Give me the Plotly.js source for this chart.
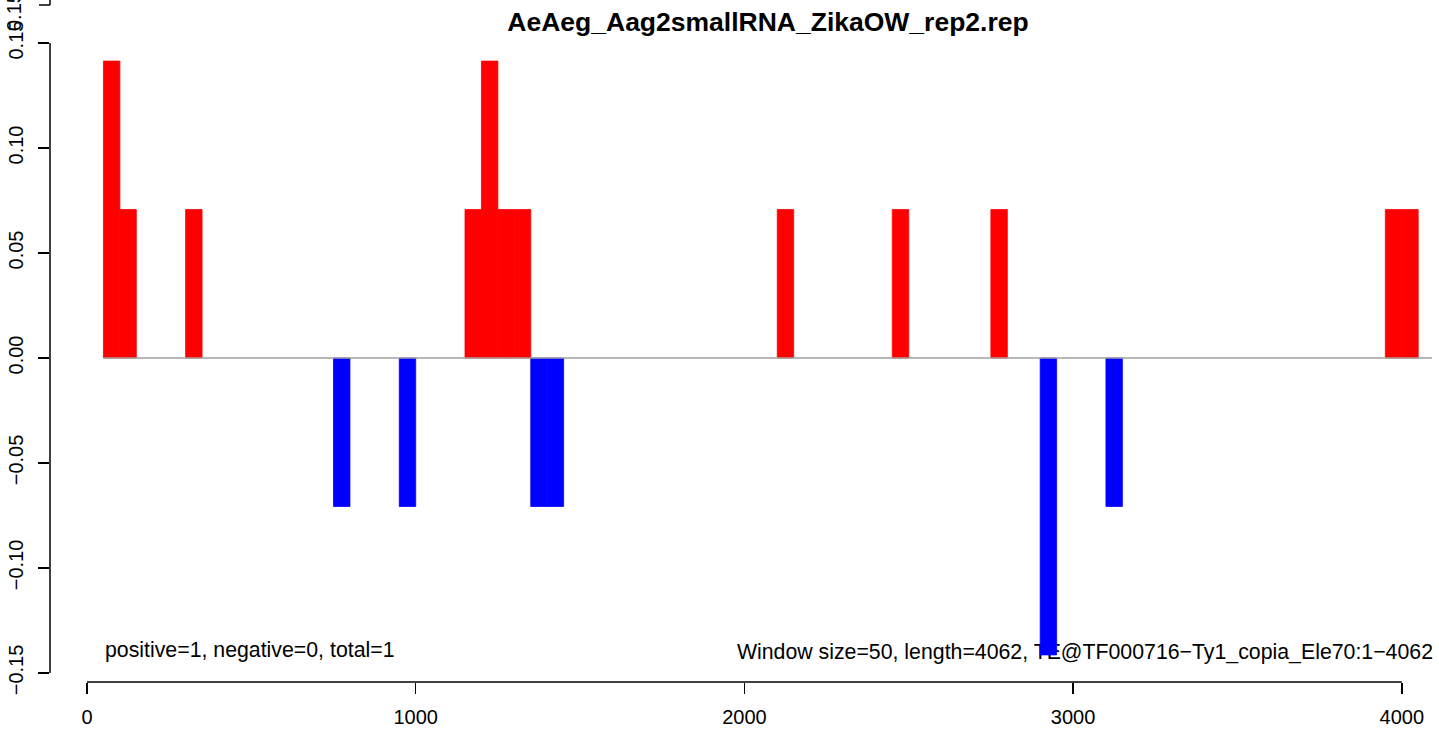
<!DOCTYPE html>
<html>
<head>
<meta charset="utf-8">
<script src="https://cdn.plot.ly/plotly-3.0.1.min.js"></script>
<style>html,body{margin:0;padding:0;background:#fff}#chart{width:1439px;height:729px}</style>
</head>
<body>
<div id="chart"></div>
<script>
// Window size 50: start positions of windows with reads
const windowSize = 50;
const posStart = [50, 100, 300, 1150, 1200, 1250, 1300, 2100, 2450, 2750, 3950, 4000];
const posValue = [0.1414, 0.0707, 0.0707, 0.0707, 0.1414, 0.0707, 0.0707, 0.0707, 0.0707, 0.0707, 0.0707, 0.0707];
const negStart = [750, 950, 1350, 1400, 2900, 3100];
const negValue = [-0.0707, -0.0707, -0.0707, -0.0707, -0.1414, -0.0707];
const baselineX = [50, 4100];
const xTicks = [0, 1000, 2000, 3000, 4000];
const yTicks = [-0.15, -0.10, -0.05, 0.00, 0.05, 0.10, 0.15];
const titleText = "AeAeg_Aag2smallRNA_ZikaOW_rep2.rep";
const leftNote = "positive=1, negative=0, total=1";
const rightNote = "Window size=50, length=4062, TE@TF000716\u2212Ty1_copia_Ele70:1\u22124062";

const FONT = "Liberation Sans, Arial, Helvetica, sans-serif";
const W = 1439, H = 729;
const M = {l: 50, r: 7, t: 34, b: 47};
const plotW = W - M.l - M.r, plotH = H - M.t - M.b;

const centers = a => a.map(s => s + windowSize / 2);

const traces = [
  {type: 'bar', x: centers(posStart), y: posValue, width: windowSize,
   marker: {color: '#ff0000', line: {width: 0.8, color: '#ff0000'}}, hoverinfo: 'skip'},
  {type: 'bar', x: centers(negStart), y: negValue, width: windowSize,
   marker: {color: '#0000ff', line: {width: 0.8, color: '#0000ff'}}, hoverinfo: 'skip'},
  {type: 'scatter', mode: 'lines', x: baselineX, y: [0, 0],
   line: {color: '#a0a0a0', width: 1.5}, hoverinfo: 'skip'}
];

const layout = {
  width: W, height: H,
  margin: M,
  paper_bgcolor: '#fff', plot_bgcolor: '#fff',
  showlegend: false,
  barmode: 'overlay',
  font: {family: FONT, size: 20, color: '#000'},
  title: {text: '<b>' + titleText + '</b>', font: {family: FONT, size: 26.5, color: '#000'},
          x: 768 / W, xref: 'container', xanchor: 'center',
          y: 1 - 22 / H, yref: 'container', yanchor: 'middle'},
  xaxis: {range: [-112.6, 4092], showgrid: false, zeroline: false, showline: false,
          tickmode: 'array', tickvals: xTicks, ticktext: xTicks.map(String),
          ticks: 'outside', ticklen: 11, tickwidth: 1.5, tickcolor: '#000',
          tickfont: {family: FONT, size: 20, color: '#000'}, ticklabelstandoff: 6},
  yaxis: {range: [-0.1543, 0.1543], showgrid: false, zeroline: false, showline: false,
          tickmode: 'array', tickvals: yTicks, ticktext: yTicks.map(v => v.toFixed(2).replace('-', '\u2212')),
          ticks: 'outside', ticklen: 11, tickwidth: 1.5, tickcolor: '#000', tickangle: -90,
          tickfont: {family: FONT, size: 20, color: '#000'}, ticklabelstandoff: 7},
  shapes: [
    // x axis line from first to last tick
    {type: 'line', xref: 'x', yref: 'paper', x0: xTicks[0], x1: xTicks[xTicks.length - 1], y0: 0, y1: 0,
     line: {color: '#000', width: 1.5}},
    // y axis line from first to last tick
    {type: 'line', xref: 'paper', yref: 'y', x0: 0, x1: 0, y0: yTicks[0], y1: yTicks[yTicks.length - 1],
     line: {color: '#000', width: 1.5}},
    // fragment of an axis above the panel
    {type: 'line', xref: 'paper', yref: 'paper', x0: 0, x1: 0, y0: (H - M.b - 0) / plotH, y1: (H - M.b - 5) / plotH,
     line: {color: '#000', width: 1.5}},
    {type: 'line', xref: 'paper', yref: 'paper', x0: 0, x1: -11 / plotW, y0: (H - M.b - 5) / plotH, y1: (H - M.b - 5) / plotH,
     line: {color: '#000', width: 1.5}},
    // right note drawn beneath the bars
    {type: 'rect', layer: 'below', xref: 'paper', yref: 'y', x0: 0.4, x1: (1436 - M.l + 3) / plotW,
     y0: -0.139, y1: -0.139, line: {width: 0}, fillcolor: 'rgba(0,0,0,0)',
     label: {text: rightNote, textposition: 'middle right', font: {family: FONT, size: 21.3, color: '#000'}}}
  ],
  annotations: [
    {xref: 'x', yref: 'y', x: posStart[0], y: -0.139, text: leftNote, showarrow: false,
     xanchor: 'left', yanchor: 'middle', font: {family: FONT, size: 21.3, color: '#000'}},
    {xref: 'paper', yref: 'paper', x: -36 / plotW, y: (H - M.b - 12) / plotH, text: '0.15', showarrow: false,
     textangle: -90, xanchor: 'center', yanchor: 'middle', font: {family: FONT, size: 20, color: '#000'}}
  ]
};

Plotly.newPlot('chart', traces, layout, {displayModeBar: false, staticPlot: true});
</script>
</body>
</html>
